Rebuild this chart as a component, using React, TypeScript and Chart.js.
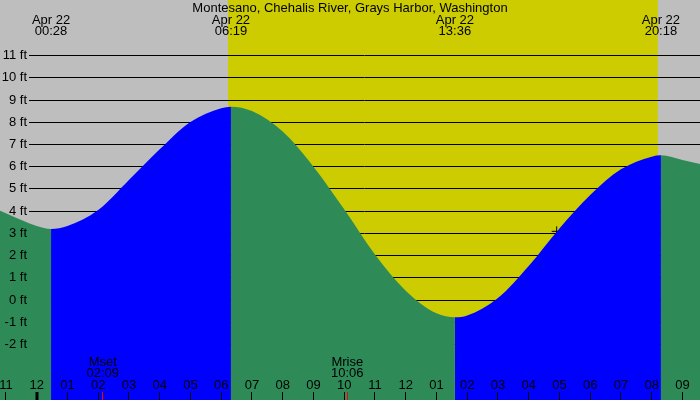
import React, { useEffect, useRef } from 'react'
import { Chart, registerables, Plugin, ChartConfiguration } from 'chart.js'
Chart.register(...registerables)

const TITLE = 'Montesano, Chehalis River, Grays Harbor, Washington'
const DAY_LABEL = 'Apr 22'

// hours after midnight Apr 22 -> water level in ft
const tideHours = [
    -1.193, -1, 0, 0.467, 1, 2, 3, 4, 5, 6, 6.317, 7, 8, 9, 10, 11, 12, 13, 13.6,
    14, 15, 16, 17, 18, 19, 20, 20.3, 21, 21.571,
]
const tideFeet = [
    4.02, 3.9, 3.33, 3.2, 3.33, 4.05, 5.4, 6.78, 8.01, 8.63, 8.7, 8.5, 7.58, 6.0, 4.08, 2.05, 0.42, -0.6, -0.78,
    -0.7, 0.09, 1.53, 3.22, 4.72, 5.88, 6.45, 6.51, 6.3, 6.12,
]

const extremeHours = [0.467, 6.317, 13.6, 20.3]
const extremeTimes = ['00:28', '06:19', '13:36', '20:18']

const sunriseHour = 6.22
const sunsetHour = 20.2

const moonHours = [2.15, 10.1]
const moonNames = ['Mset', 'Mrise']
const moonTimes = ['02:09', '10:06']

const hourTicks = [-1, 0, 1, 2, 3, 4, 5, 6, 7, 8, 9, 10, 11, 12, 13, 14, 15, 16, 17, 18, 19, 20, 21]
const hourLabels = [
    '11', '12', '01', '02', '03', '04', '05', '06', '07', '08', '09', '10',
    '11', '12', '01', '02', '03', '04', '05', '06', '07', '08', '09',
]
const feetTicks = [-2, -1, 0, 1, 2, 3, 4, 5, 6, 7, 8, 9, 10, 11]

const markHours = [16.91]
const markFeet = [3.09]

const NIGHT = '#bebebe'
const DAYLIGHT = '#cccc00'
const RISING = '#0000ff'
const FALLING = '#2e8b57'
const FONT = '13px "Liberation Sans", Arial, sans-serif'

const tidePlugin: Plugin<'line'> = {
    id: 'tide',
    beforeDatasetsDraw(chart) {
        const { ctx, chartArea: a } = chart
        const x = chart.scales.x
        const y = chart.scales.y
        ctx.save()
        ctx.fillStyle = NIGHT
        ctx.fillRect(a.left, a.top, a.width, a.height)
        const sx0 = x.getPixelForValue(sunriseHour)
        const sx1 = x.getPixelForValue(sunsetHour)
        ctx.fillStyle = DAYLIGHT
        ctx.fillRect(sx0, a.top, sx1 - sx0, a.height)
        ctx.strokeStyle = '#000'
        ctx.lineWidth = 1
        ctx.beginPath()
        feetTicks.forEach((f) => {
            const py = Math.floor(y.getPixelForValue(f)) + 0.5
            ctx.moveTo(29, py)
            ctx.lineTo(a.right, py)
        })
        ctx.stroke()
        ctx.restore()
    },
    afterDatasetsDraw(chart) {
        const { ctx } = chart
        const x = chart.scales.x
        const y = chart.scales.y
        ctx.save()
        ctx.font = FONT
        ctx.fillStyle = '#000'

        // ft labels
        ctx.textAlign = 'right'
        ctx.textBaseline = 'middle'
        feetTicks.forEach((f) => {
            ctx.fillText(f + ' ft', 27, y.getPixelForValue(f))
        })

        ctx.textAlign = 'center'
        ctx.textBaseline = 'alphabetic'
        ctx.fillText(TITLE, 350, 12)

        extremeHours.forEach((h, i) => {
            const px = x.getPixelForValue(h)
            ctx.fillText(DAY_LABEL, px, 24)
            ctx.fillText(extremeTimes[i], px, 35)
        })

        moonHours.forEach((h, i) => {
            const px = x.getPixelForValue(h)
            ctx.fillText(moonNames[i], px, 366)
            ctx.fillText(moonTimes[i], px, 377)
        })

        hourTicks.forEach((h, i) => {
            const px = x.getPixelForValue(h)
            ctx.fillText(hourLabels[i], px, 389)
            ctx.beginPath()
            ctx.lineWidth = h === 0 ? 3 : 1
            ctx.strokeStyle = '#000'
            const lx = h === 0 ? Math.round(px) : Math.floor(px) + 0.5
            ctx.moveTo(lx, 392)
            ctx.lineTo(lx, 400)
            ctx.stroke()
        })

        moonHours.forEach((h) => {
            const px = Math.floor(x.getPixelForValue(h)) + 0.5
            ctx.beginPath()
            ctx.lineWidth = 1
            ctx.strokeStyle = '#ff0000'
            ctx.moveTo(px, 392)
            ctx.lineTo(px, 400)
            ctx.stroke()
        })
        ctx.restore()
    },
}

export default function App() {
    const ref = useRef<HTMLCanvasElement | null>(null)

    useEffect(() => {
        if (!ref.current) {
            return
        }
        const cfg: ChartConfiguration<'line'> = {
            type: 'line',
            data: {
                datasets: [
                    {
                        data: tideHours.map((h, i) => ({ x: h, y: tideFeet[i] })),
                        fill: 'start',
                        borderWidth: 0,
                        borderColor: 'transparent',
                        pointRadius: 0,
                        cubicInterpolationMode: 'monotone',
                        backgroundColor: FALLING,
                        segment: {
                            backgroundColor: (c: any) => (c.p1.parsed.y > c.p0.parsed.y ? RISING : FALLING),
                        },
                    },
                    {
                        data: markHours.map((h, i) => ({ x: h, y: markFeet[i] })),
                        showLine: false,
                        fill: false,
                        pointStyle: 'cross',
                        pointRadius: 5,
                        borderWidth: 1,
                        borderColor: '#000',
                    },
                ],
            },
            options: {
                animation: false,
                responsive: false,
                maintainAspectRatio: false,
                layout: { padding: 0, autoPadding: false },
                plugins: {
                    legend: { display: false },
                    tooltip: { enabled: false },
                    title: { display: false },
                },
                scales: {
                    x: { type: 'linear', min: -1.193, max: 21.571, display: false },
                    y: { min: -4.5, max: 13.5, display: false },
                },
            },
            plugins: [tidePlugin],
        }
        const chart = new Chart(ref.current, cfg)
        return () => chart.destroy()
    }, [])

    return (
        <div style={{ position: 'fixed', left: 0, top: 0, width: 700, height: 400 }}>
            <canvas ref={ref} width="700" height="400"></canvas>
        </div>
    )
}
